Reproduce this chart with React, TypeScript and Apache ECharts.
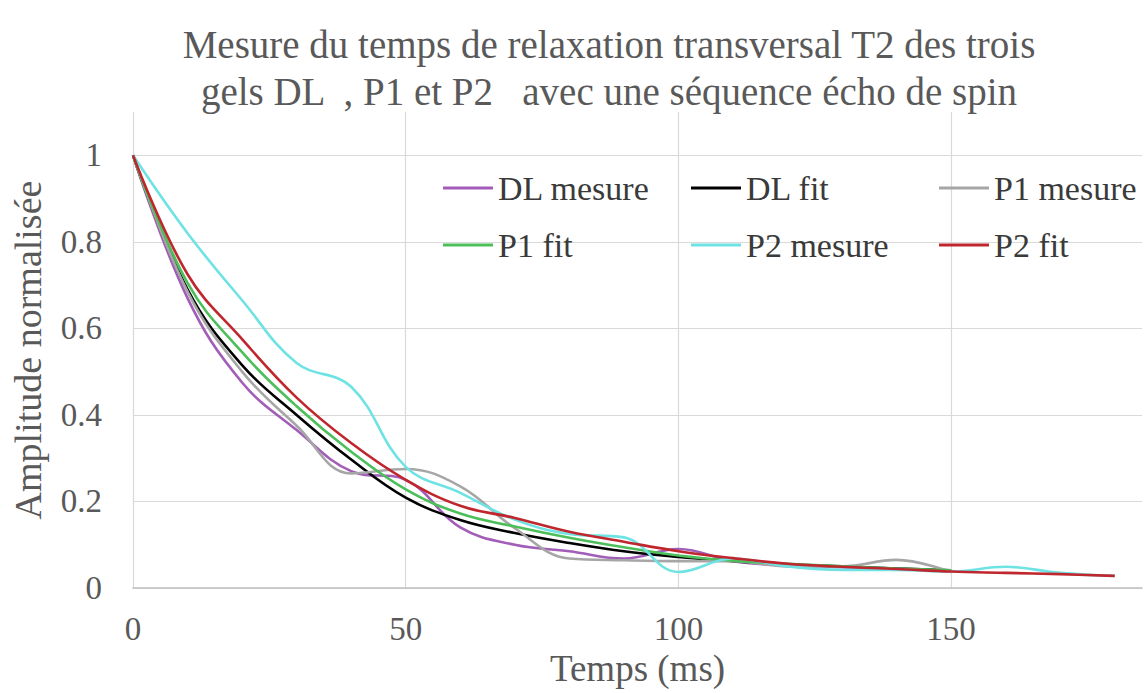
import React, { useEffect, useRef } from "react";
import * as echarts from "echarts";

const times = [0, 10, 20, 30, 40, 50, 60, 70, 80, 90, 100, 110, 120, 130, 140, 150, 160, 170, 180];

const dlMesure = [1, 0.67, 0.475, 0.365, 0.27, 0.25, 0.14, 0.1, 0.085, 0.068, 0.09, 0.062, 0.052, 0.048, 0.045, 0.04];
const dlFit = [1, 0.69, 0.515, 0.4, 0.297, 0.209, 0.157, 0.127, 0.104, 0.085, 0.072, 0.062, 0.055, 0.05, 0.045, 0.041];
const p1Mesure = [1, 0.685, 0.5, 0.375, 0.265, 0.275, 0.235, 0.138, 0.068, 0.064, 0.062, 0.062, 0.05, 0.05, 0.065, 0.037];
const p1Fit = [1, 0.705, 0.545, 0.42, 0.315, 0.228, 0.172, 0.142, 0.116, 0.094, 0.075, 0.063, 0.056, 0.05, 0.045, 0.041];
const p2Mesure = [1, 0.82, 0.665, 0.52, 0.465, 0.28, 0.22, 0.158, 0.125, 0.117, 0.037, 0.068, 0.05, 0.042, 0.042, 0.038, 0.049, 0.035, 0.028];
const p2Fit = [1, 0.725, 0.575, 0.44, 0.335, 0.25, 0.19, 0.162, 0.13, 0.107, 0.085, 0.069, 0.056, 0.049, 0.044, 0.038, 0.035, 0.032, 0.028];

const seriesNames = ["DL mesure", "DL fit", "P1 mesure", "P1 fit", "P2 mesure", "P2 fit"];
const seriesValues = [dlMesure, dlFit, p1Mesure, p1Fit, p2Mesure, p2Fit];
const seriesColors = ["#A25DB8", "#000000", "#A6A6A6", "#4CBF5A", "#6FE2E4", "#C0262D"];

const FONT = "Liberation Serif";

export default function App() {
  const ref = useRef<HTMLDivElement>(null);

  useEffect(() => {
    if (!ref.current) return;
    const chart = echarts.init(ref.current, undefined, { renderer: "svg" });
    const series = seriesNames.map((name, i) => ({
      name,
      type: "line",
      smooth: 0.4,
      symbol: "none",
      showSymbol: false,
      data: seriesValues[i].map((v, j) => [times[j], v]),
      lineStyle: { color: seriesColors[i], width: 2.6 },
      itemStyle: { color: seriesColors[i] },
    }));
    chart.setOption({
      animation: false,
      backgroundColor: "#ffffff",
      textStyle: { fontFamily: FONT },
      title: {
        text: "Mesure du temps de relaxation transversal T2 des trois\ngels DL  , P1 et P2   avec une séquence écho de spin",
        left: 604,
        top: 16,
        textAlign: "center",
        textStyle: {
          fontFamily: FONT,
          fontSize: 39,
          fontWeight: "normal",
          color: "#595959",
          lineHeight: 47,
        },
      },
      legend: {
        left: 443,
        top: 166,
        width: 740,
        padding: 0,
        icon: "rect",
        itemWidth: 50,
        itemHeight: 3,
        itemGap: 13,
        data: seriesNames,
        textStyle: {
          fontFamily: FONT,
          fontSize: 34,
          color: "#3a3a3a",
          width: 180,
          lineHeight: 44,
        },
      },
      grid: { left: 133, right: 6, top: 112, bottom: 105, containLabel: false },
      xAxis: {
        type: "value",
        min: 0,
        max: 185,
        interval: 50,
        name: "Temps (ms)",
        nameLocation: "middle",
        nameGap: 60,
        nameTextStyle: { fontFamily: FONT, fontSize: 37, color: "#595959" },
        axisLine: { show: true, lineStyle: { color: "#bfbfbf", width: 1.5 } },
        axisTick: { show: false },
        axisLabel: {
          fontFamily: FONT,
          fontSize: 33,
          color: "#595959",
          margin: 24,
          showMaxLabel: false,
        },
        splitLine: { show: true, showMaxLine: false, lineStyle: { color: "#d9d9d9", width: 1.2 } },
      },
      yAxis: {
        type: "value",
        min: 0,
        max: 1.1,
        interval: 0.2,
        name: "Amplitude normalisée",
        nameLocation: "middle",
        nameGap: 86,
        nameTextStyle: { fontFamily: FONT, fontSize: 38, color: "#595959" },
        axisLine: { show: false },
        axisTick: { show: false },
        axisLabel: {
          fontFamily: FONT,
          fontSize: 33,
          color: "#595959",
          margin: 31,
          showMaxLabel: false,
          formatter: (v: number) => String(+v.toFixed(1)),
        },
        splitLine: { show: true, showMaxLine: false, lineStyle: { color: "#d9d9d9", width: 1.2 } },
      },
      series,
    });
    return () => chart.dispose();
  }, []);

  return (
    <div
      ref={ref}
      style={{ position: "fixed", left: 0, top: 0, width: 1148, height: 693, background: "#fff" }}
    />
  );
}
